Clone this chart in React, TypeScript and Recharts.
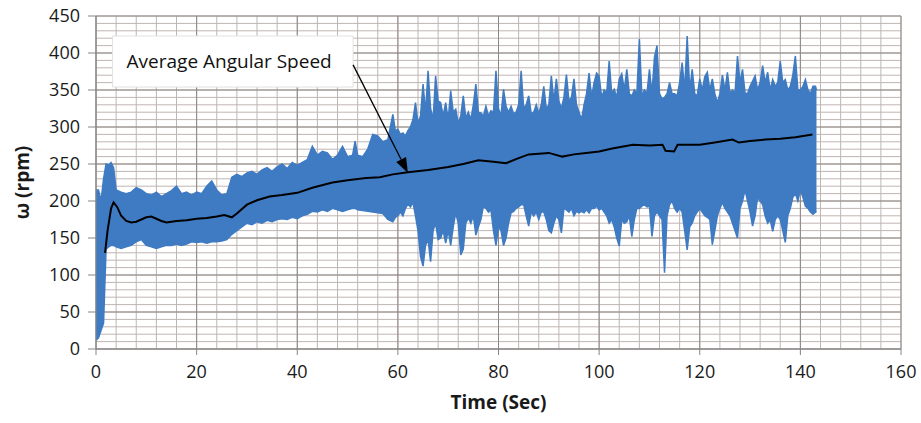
import {
  ComposedChart,
  Area,
  Line,
  XAxis,
  YAxis,
  CartesianGrid,
  ReferenceArea,
  ReferenceLine,
} from 'recharts';

// measured angular speed: envelope (low / high) of the oscillating signal, rpm
const timeSec = [
  0, 0.5, 1, 1.5, 2, 2.5, 3, 3.5, 4,
  5, 6, 7, 8, 9, 10, 11, 12, 13, 14,
  15, 16, 17, 18, 19, 20, 21, 22, 23, 24,
  25, 26, 27, 28, 29, 30, 31, 32, 33, 34,
  35, 36, 37, 38, 39, 40, 41, 42, 43, 44,
  45, 46, 47, 48, 49, 50, 51, 51.5, 52, 53,
  54, 55, 56, 57, 58, 59, 59.5,
  60, 60.5, 61, 61.5, 62, 62.5, 63, 63.5, 64, 64.5,
  65, 65.5, 66, 66.5, 67, 67.5, 68, 68.5, 69, 69.5,
  70, 70.5, 71, 71.5, 72, 72.5, 73, 73.5, 74, 74.5,
  75, 75.5, 76, 76.5, 77, 77.5, 78, 78.5, 79, 79.5,
  80, 80.5, 81, 81.5, 82, 82.5, 83, 83.5, 84, 84.5,
  85, 85.5, 86, 86.5, 87, 87.5, 88, 88.5, 89, 89.5,
  90, 90.5, 91, 91.5, 92, 92.5, 93, 93.5, 94, 94.5,
  95, 95.5, 96, 96.5, 97, 97.5, 98, 98.5, 99, 99.5,
  100, 100.5, 101, 101.5, 102, 102.5, 103, 103.5, 104, 104.5,
  105, 105.5, 106, 106.5, 107, 107.5, 108, 108.5, 109, 109.5,
  110, 110.5, 111, 111.5, 112, 112.5, 113, 113.5, 114, 114.5,
  115, 115.5, 116, 116.5, 117, 117.5, 118, 118.5, 119, 119.5,
  120, 120.5, 121, 121.5, 122, 122.5, 123, 123.5, 124, 124.5,
  125, 125.5, 126, 126.5, 127, 127.5, 128, 128.5, 129, 129.5,
  130, 130.5, 131, 131.5, 132, 132.5, 133, 133.5, 134, 134.5,
  135, 135.5, 136, 136.5, 137, 137.5, 138, 138.5, 139, 139.5,
  140, 140.5, 141, 141.5, 142, 142.5, 143, 143.2,
];
const lowerRpm = [
  12, 15, 25, 35, 135, 138, 140, 140, 138,
  136, 138, 140, 145, 148, 140, 138, 136, 138, 140,
  140, 142, 140, 142, 145, 144, 145, 143, 145, 145,
  146, 148, 155, 160, 165, 170, 168, 172, 170, 174,
  172, 175, 176, 175, 178, 176, 180, 182, 186, 185,
  188, 186, 190, 188, 186, 188, 190, 190, 188, 187,
  186, 185, 184, 183, 175, 172, 178,
  180, 185, 180, 190, 196, 192, 198, 180, 160, 125,
  112, 140, 148, 118, 160, 170, 148, 150, 160, 143,
  160, 140, 165, 184, 170, 127, 135, 170, 177, 170,
  180, 154, 165, 175, 193, 190, 185, 188, 160, 140,
  165, 160, 140, 150, 170, 184, 186, 190, 192, 195,
  195, 180, 166, 185, 180, 185, 175, 185, 185, 175,
  160, 157, 170, 180, 175, 157, 190, 188, 185, 190,
  180, 186, 184, 186, 184, 188, 184, 190, 190, 193,
  188, 190, 185, 180, 170, 175, 165, 150, 139, 175,
  170, 172, 180, 152, 175, 190, 190, 193, 195, 192,
  193, 152, 180, 185, 180, 175, 103, 180, 195, 200,
  190, 185, 190, 185, 160, 134, 165, 170, 180, 185,
  190, 185, 180, 178, 175, 141, 160, 180, 190, 198,
  190, 185, 180, 170, 160, 150, 190, 200, 215, 200,
  185, 166, 180, 205, 200, 195, 180, 170, 175, 159,
  175, 180, 175, 160, 144, 180, 190, 205, 210, 200,
  215, 205, 193, 190, 185, 182, 185, 185,
];
const upperRpm = [
  215, 215, 200, 230, 250, 248, 252, 245, 215,
  212, 210, 212, 218, 215, 210, 208, 212, 206, 210,
  214, 220, 210, 212, 208, 212, 210, 220, 227, 215,
  208, 210, 232, 236, 233, 238, 240, 236, 242, 245,
  240, 246, 250, 244, 252, 248, 252, 256, 274, 262,
  267, 265, 256, 262, 274, 260, 262, 281, 262, 260,
  270, 290, 288, 280, 283, 317, 295,
  297, 290, 292, 288, 295, 300, 310, 333, 305, 315,
  358, 320, 376, 325, 310, 369, 335, 333, 315, 333,
  310, 349, 320, 324, 305, 315, 342, 312, 320, 310,
  330, 358, 320, 319, 315, 328, 315, 322, 320, 376,
  325, 315, 351, 328, 320, 328, 318, 320, 330, 376,
  325, 330, 342, 318, 320, 330, 318, 330, 355, 325,
  330, 369, 335, 365, 335, 325, 340, 371, 335, 340,
  365, 330, 320, 310, 330, 345, 373, 340, 360, 373,
  369, 340, 350, 346, 389, 345, 351, 340, 365, 372,
  350, 378, 345, 342, 350, 345, 419, 342, 350, 345,
  378, 345, 394, 410, 345, 338, 340, 345, 360, 345,
  345, 342, 360, 387, 350, 423, 350, 378, 345, 342,
  365, 350, 368, 374, 350, 365, 345, 333, 345, 370,
  350, 374, 345, 350, 345, 396, 360, 378, 346, 345,
  355, 362, 369, 350, 360, 383, 360, 374, 350, 364,
  355, 360, 389, 360, 364, 350, 355, 370, 396, 350,
  350, 355, 364, 350, 345, 355, 355, 350,
];

// running average
const avgTime = [
  1.8, 2.3, 3, 3.5, 4.2, 5, 6, 7, 8, 9, 10, 11, 12, 13, 14, 16, 18, 20, 22, 24, 25.5, 27, 28, 30, 32, 34.5, 37, 40,
  43, 47, 50, 53.7, 56.4, 59, 62, 66, 70, 73, 76, 79, 81.5, 84, 86, 90, 92.7, 95, 97.4, 100, 102.6, 106.7, 110,
  112.6, 113.2, 114.9, 115.6, 120, 123, 126.5, 127.8, 130, 133, 136, 139, 142.4,
];
const avgRpm = [
  130, 160, 190, 198, 192, 180, 173, 171, 172, 175, 178, 179, 176, 173, 171, 173, 174, 176, 177, 179, 181, 178, 183,
  195, 201, 206, 208, 211, 218, 225, 228, 231, 232, 236, 239, 242, 246, 250, 255, 253, 251, 258, 263, 265, 260, 263,
  265, 267, 271, 276, 275, 276, 268, 267, 276, 276, 279, 283, 279, 281, 283, 284, 286, 290,
];

const X_DOMAIN = [0, 160];
const Y_DOMAIN = [0, 450];
const xTicks = [0, 20, 40, 60, 80, 100, 120, 140, 160];
const yTicks = [0, 50, 100, 150, 200, 250, 300, 350, 400, 450];
const xMinor = [
  0, 4, 8, 12, 16, 20, 24, 28, 32, 36, 40, 44, 48, 52, 56, 60, 64, 68, 72, 76, 80, 84, 88, 92, 96, 100, 104, 108,
  112, 116, 120, 124, 128, 132, 136, 140, 144, 148, 152, 156, 160,
];
const yMinor = [
  0, 10, 20, 30, 40, 50, 60, 70, 80, 90, 100, 110, 120, 130, 140, 150, 160, 170, 180, 190, 200, 210, 220, 230, 240,
  250, 260, 270, 280, 290, 300, 310, 320, 330, 340, 350, 360, 370, 380, 390, 400, 410, 420, 430, 440, 450,
];

const bandRows = timeSec.map((t, i) => ({ t, range: [lowerRpm[i], upperRpm[i]] }));
const avgRows = avgTime.map((t, i) => ({ t, avg: avgRpm[i] }));

const FONT = '"Open Sans", sans-serif';
const BLUE = '#3f7bc3';

// annotation placement (data coordinates)
const BOX_X = [3.3, 51.1];
const BOX_Y = [354, 423];
const ARROW_FROM = { x: 51.1, y: 384 };
const ARROW_TO = { x: 62, y: 238 };

// minor grid: map values through the axis scale
const minorVertical = ({ xAxis, offset }: any) =>
  xMinor.map((v) =>
    typeof xAxis?.scale === 'function'
      ? xAxis.scale(v)
      : offset.left + ((v - X_DOMAIN[0]) / (X_DOMAIN[1] - X_DOMAIN[0])) * offset.width,
  );
const minorHorizontal = ({ yAxis, offset }: any) =>
  yMinor.map((v) =>
    typeof yAxis?.scale === 'function'
      ? yAxis.scale(v)
      : offset.top + offset.height - ((v - Y_DOMAIN[0]) / (Y_DOMAIN[1] - Y_DOMAIN[0])) * offset.height,
  );

const Arrow = (props: any) => {
  const { x1, y1, x2, y2 } = props;
  if (x1 == null) return null;
  const ang = Math.atan2(y2 - y1, x2 - x1);
  const len = 15;
  const half = 5.5;
  const bx = x2 - len * Math.cos(ang);
  const by = y2 - len * Math.sin(ang);
  const px = -Math.sin(ang) * half;
  const py = Math.cos(ang) * half;
  return (
    <g>
      <line x1={x1} y1={y1} x2={bx} y2={by} stroke="#000" strokeWidth={1.3} />
      <polygon points={`${x2},${y2} ${bx + px},${by + py} ${bx - px},${by - py}`} fill="#000" />
    </g>
  );
};

const YTitle = (props: any) => {
  const vb = props.viewBox || {};
  const x = vb.x - 14;
  const y = vb.y + vb.height / 2;
  return (
    <text
      x={x}
      y={y}
      transform={`rotate(-90, ${x}, ${y})`}
      textAnchor="middle"
      dominantBaseline="central"
      fontFamily={FONT}
      fontWeight={700}
      fontSize={19}
      fill="#1a1a1a"
    >
      ω (rpm)
    </text>
  );
};

export default function App() {
  return (
    <div style={{ width: 921, height: 423, background: '#fff' }}>
      <style>{'body{margin:0;overflow:hidden;}'}</style>
      <ComposedChart
        width={921}
        height={423}
        data={bandRows}
        margin={{ top: 16, right: 20, bottom: 14, left: 36 }}
      >
        <CartesianGrid
          stroke="#bfb6b2"
          verticalCoordinatesGenerator={minorVertical}
          horizontalCoordinatesGenerator={minorHorizontal}
        />
        <CartesianGrid stroke="#8f8784" />
        <XAxis
          type="number"
          dataKey="t"
          domain={X_DOMAIN}
          ticks={xTicks}
          allowDataOverflow
          height={60}
          tickSize={6}
          tickMargin={10}
          stroke="#858585"
          tick={{ fill: '#1a1a1a', fontSize: 18, fontFamily: FONT }}
          label={{
            value: 'Time (Sec)',
            position: 'insideBottom',
            offset: 0,
            fill: '#1a1a1a',
            fontSize: 19,
            fontWeight: 700,
            fontFamily: FONT,
          }}
        />
        <YAxis
          type="number"
          domain={Y_DOMAIN}
          ticks={yTicks}
          allowDataOverflow
          width={60}
          tickSize={8}
          tickMargin={8}
          stroke="#858585"
          tick={{ fill: '#1a1a1a', fontSize: 18, fontFamily: FONT }}
          label={{ content: <YTitle /> }}
        />
        <Area
          type="linear"
          dataKey="range"
          stroke={BLUE}
          strokeWidth={1.5}
          fill={BLUE}
          fillOpacity={1}
          isAnimationActive={false}
          dot={false}
          activeDot={false}
        />
        <Line
          data={avgRows}
          type="linear"
          dataKey="avg"
          stroke="#000"
          strokeWidth={2}
          dot={false}
          activeDot={false}
          isAnimationActive={false}
        />
        <ReferenceArea
          x1={BOX_X[0]}
          x2={BOX_X[1]}
          y1={BOX_Y[0]}
          y2={BOX_Y[1]}
          fill="#fff"
          fillOpacity={1}
          stroke="#e2e2e2"
          label={{
            value: 'Average Angular Speed',
            position: 'insideLeft',
            offset: 14,
            fill: '#111',
            fontSize: 19,
            fontFamily: FONT,
          }}
        />
        <ReferenceLine segment={[ARROW_FROM, ARROW_TO]} shape={<Arrow />} />
      </ComposedChart>
    </div>
  );
}
